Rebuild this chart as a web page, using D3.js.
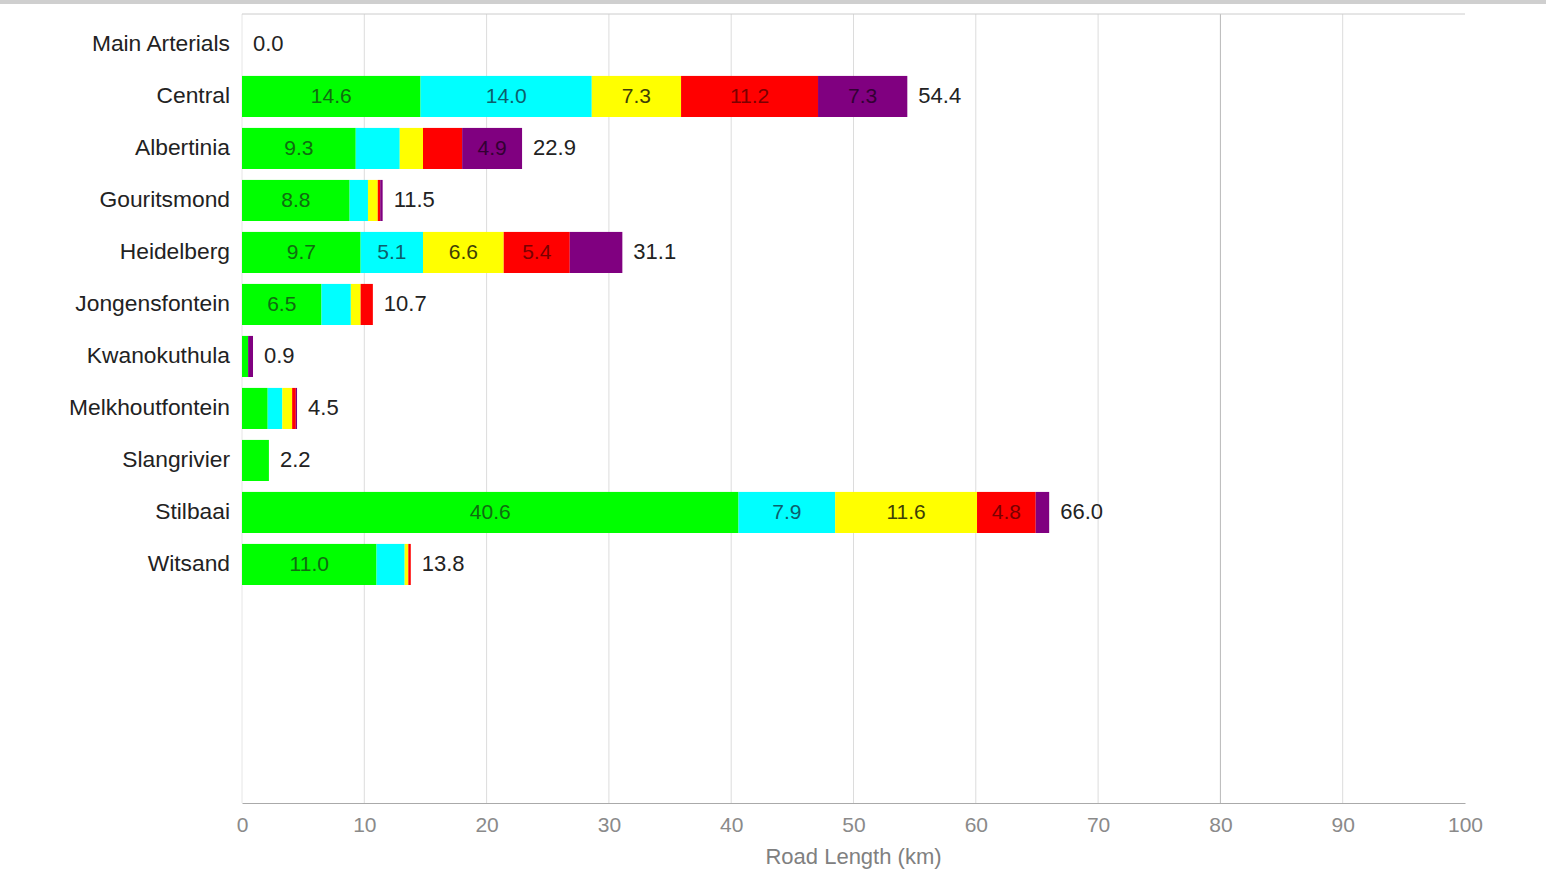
<!DOCTYPE html>
<html>
<head>
<meta charset="utf-8">
<script src="https://cdn.jsdelivr.net/npm/d3@7"></script>
<style>
  html, body { margin: 0; padding: 0; background: #fff; }
  svg { display: block; font-family: "Liberation Sans", Arial, sans-serif; }
</style>
</head>
<body>
<svg id="chart" width="1546" height="869"></svg>
<script>
// ---- data ----
const categories = ["Main Arterials", "Central", "Albertinia", "Gouritsmond", "Heidelberg",
  "Jongensfontein", "Kwanokuthula", "Melkhoutfontein", "Slangrivier", "Stilbaai", "Witsand"];
const seriesNames = ["Series 1", "Series 2", "Series 3", "Series 4", "Series 5"];
const series1 = [0, 14.6, 9.3, 8.8, 9.7, 6.5, 0.5, 2.1, 2.2, 40.6, 11.0];
const series2 = [0, 14.0, 3.6, 1.5, 5.1, 2.4, 0, 1.2, 0, 7.9, 2.3];
const series3 = [0, 7.3, 1.9, 0.8, 6.6, 0.8, 0, 0.8, 0, 11.6, 0.3];
const series4 = [0, 11.2, 3.2, 0.2, 5.4, 1.0, 0, 0.3, 0, 4.8, 0.2];
const series5 = [0, 7.3, 4.9, 0.2, 4.3, 0, 0.4, 0.1, 0, 1.1, 0];
const xTicks = [0, 10, 20, 30, 40, 50, 60, 70, 80, 90, 100];
const xTitle = "Road Length (km)";

(function () {
// ---- styles ----
const colors = ["#00ff00", "#00ffff", "#ffff00", "#ff0000", "#800080"];
const labelColors = ["#106c10", "#0c5f6c", "#3e3e06", "#7a0000", "#330033"];

const svg = d3.select("#chart");
const pLeft = 242, pRight = 1465, pTop = 14, pBottom = 803;

// top page frame line
svg.append("rect").attr("x", 0).attr("y", 0).attr("width", 1546).attr("height", 4).attr("fill", "#cfcfcf");

const x = d3.scaleLinear().domain([0, 100]).range([pLeft, pRight]);
const y = d3.scaleBand().domain(categories).range([13, 13 + 52 * 11.21])
  .paddingInner(0.21).paddingOuter(0.21);

const allSeries = [series1, series2, series3, series4, series5];
const rows = categories.map((c, i) => {
  const r = { category: c };
  seriesNames.forEach((s, k) => r[s] = allSeries[k][i]);
  return r;
});
const stacked = d3.stack().keys(seriesNames)(rows);

// gridlines
const g = svg.append("g");
g.selectAll("line.grid").data(xTicks.filter(t => t < 100)).join("line")
  .attr("class", "grid")
  .attr("x1", d => x(d)).attr("x2", d => x(d))
  .attr("y1", pTop).attr("y2", pBottom)
  .attr("stroke", d => d === 80 ? "#b8b8b8" : (d === 0 ? "#e6e6e6" : "#dcdcdc"))
  .attr("stroke-width", 1);
// top border
g.append("line").attr("x1", pLeft).attr("x2", pRight).attr("y1", pTop).attr("y2", pTop)
  .attr("stroke", "#cccccc");

// bars
const layers = svg.append("g").selectAll("g").data(stacked).join("g")
  .attr("fill", (d, i) => colors[i]);
layers.selectAll("rect").data(d => d).join("rect")
  .attr("x", d => x(d[0]))
  .attr("y", d => y(d.data.category))
  .attr("width", d => Math.max(0, x(d[1]) - x(d[0])))
  .attr("height", y.bandwidth());

// segment labels
stacked.forEach((layer, i) => {
  svg.append("g").selectAll("text").data(layer.filter(d => x(d[1]) - x(d[0]) >= 55)).join("text")
    .attr("x", d => (x(d[0]) + x(d[1])) / 2)
    .attr("y", d => y(d.data.category) + y.bandwidth() / 2)
    .attr("dy", "0.3em")
    .attr("text-anchor", "middle")
    .attr("font-size", 21)
    .attr("fill", labelColors[i])
    .text(d => (d[1] - d[0]).toFixed(1));
});

// total labels
svg.append("g").selectAll("text").data(rows).join("text")
  .attr("x", d => x(d3.sum(seriesNames, s => d[s])) + 11)
  .attr("y", d => y(d.category) + y.bandwidth() / 2)
  .attr("dy", "0.3em")
  .attr("font-size", 22)
  .attr("fill", "#222")
  .text(d => d3.sum(seriesNames, s => d[s]).toFixed(1));

// category axis labels
svg.append("g").selectAll("text").data(categories).join("text")
  .attr("x", pLeft - 12)
  .attr("y", d => y(d) + y.bandwidth() / 2)
  .attr("dy", "0.3em")
  .attr("text-anchor", "end")
  .attr("font-size", 22.8)
  .attr("fill", "#222")
  .text(d => d);

// bottom axis
const xAxis = d3.axisBottom(x).tickValues(xTicks).tickSize(0).tickPadding(14);
const ax = svg.append("g").attr("transform", `translate(0,${pBottom})`).call(xAxis);
ax.select(".domain").attr("stroke", "#aaaaaa");
ax.selectAll("text").attr("font-size", 21).attr("fill", "#8a8a8a")
  .attr("font-family", "\"Liberation Sans\", Arial, sans-serif");

svg.append("text")
  .attr("x", x(50)).attr("y", 864)
  .attr("text-anchor", "middle")
  .attr("font-size", 22)
  .attr("fill", "#808080")
  .text(xTitle);
})();
</script>
</body>
</html>
